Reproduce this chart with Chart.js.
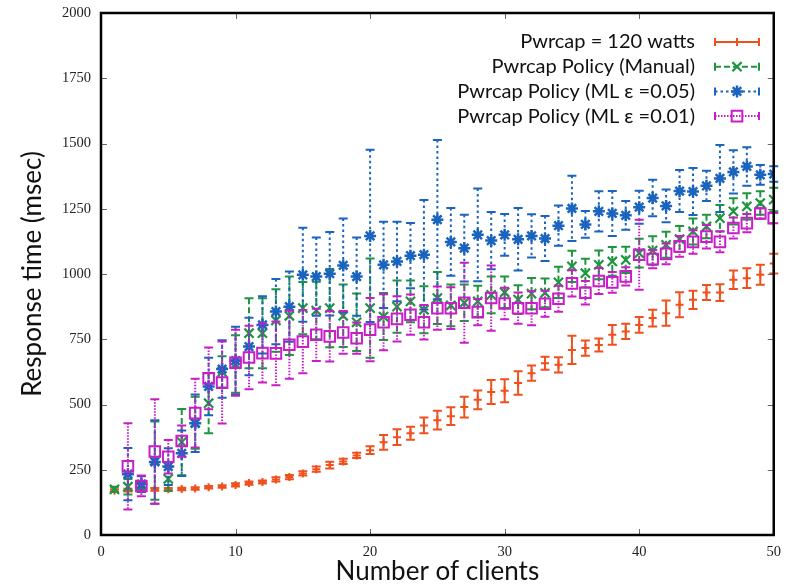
<!DOCTYPE html>
<html>
<head>
<meta charset="utf-8">
<script src="https://cdn.jsdelivr.net/npm/chart.js@4.4.1/dist/chart.umd.min.js"></script>
<style>
  body { margin: 0; background: #fff; }
</style>
</head>
<body>
<canvas id="respChart" width="789" height="585"></canvas>
<script>
// Number of clients (x)
const clients = [1,2,3,4,5,6,7,8,9,10,11,12,13,14,15,16,17,18,19,20,21,22,23,24,25,
  26,27,28,29,30,31,32,33,34,35,36,37,38,39,40,41,42,43,44,45,46,47,48,49,50];

// Response time (msec): mean and error for each policy
const capMean = [170,172,174,175,175,176,178,183,186,192, 199,203,213,222,236,252,268,282,305,325,
  355,375,390,420,440,455,490,518,548,553, 582,620,658,652,709,716,728,767,780,805,
  831,850,882,901,929,929,978,984,997,1040];
const capErr = [5,5,5,5,5,5,5,5,5,6, 6,6,8,8,8,10,13,10,10,15,
  28,30,25,30,36,34,40,36,46,44, 45,29,25,29,54,29,25,38,29,30,
  32,48,48,35,29,32,35,38,38,38];

const manualMean = [175,185,185,285,215,356,430,505,625,655, 773,773,822,840,869,860,869,840,815,869,
  837,875,895,863,908,880,890,895,920,930, 902,925,928,968,1029,1003,1035,1048,1054,1080,
  1090,1112,1134,1163,1182,1214,1240,1259,1272,1285];
const manualErr = [10,30,20,150,45,127,100,115,60,110, 134,134,120,150,100,110,150,120,110,190,
  90,100,80,90,100,80,70,60,70,60, 55,60,55,60,60,55,55,55,50,55,
  55,50,50,50,45,50,50,50,45,45];

const ml05Mean = [null,233,195,280,262,313,428,569,636,668, 722,805,856,875,997,990,1001,1033,990,1146,
  1035,1048,1070,1074,1208,1123,1099,1150,1128,1150, 1133,1146,1136,1185,1251,1190,1240,1232,1225,1256,
  1291,1261,1318,1316,1338,1366,1391,1412,1380,1383];
const ml05Err = [null,100,30,160,70,87,110,110,110,130, 110,110,125,135,180,150,160,180,150,330,
  165,152,125,210,305,130,128,178,110,80, 120,83,86,77,125,51,77,86,55,63,
  70,63,80,90,58,128,83,74,38,30];

const ml01Mean = [null,263,188,320,300,360,467,600,584,660, 680,697,696,729,741,767,761,776,754,787,
  815,828,844,815,869,869,890,854,908,887, 869,869,886,905,964,928,973,968,991,1074,
  1057,1077,1106,1123,1143,1123,1176,1195,1232,1214];
const ml01Err = [null,165,40,200,64,60,132,118,157,126, 122,113,122,130,121,100,96,82,60,121,
  107,87,77,66,83,80,153,50,125,60, 60,65,50,50,50,45,50,40,35,134,
  35,40,40,45,45,40,40,35,20,20];

function points(mean, err) {
  const out = [];
  clients.forEach((c, i) => {
    if (mean[i] != null) out.push({ x: c, y: mean[i], err: err[i] });
  });
  return out;
}

// vertical error bars, drawn just before each series' markers
const errorBars = {
  id: 'errorBars',
  beforeDatasetDraw(chart, args) {
    const ds = chart.data.datasets[args.index];
    const xs = chart.scales.x, ys = chart.scales.y;
    const ctx = chart.ctx;
    ctx.save();
    ctx.strokeStyle = ds.borderColor;
    ctx.lineWidth = 2;
    ds.data.forEach(p => {
      const px = xs.getPixelForValue(p.x);
      const top = ys.getPixelForValue(p.y + p.err);
      const bot = ys.getPixelForValue(p.y - p.err);
      ctx.setLineDash(ds.barDash);
      ctx.beginPath();
      ctx.moveTo(px, top);
      ctx.lineTo(px, bot);
      ctx.stroke();
      ctx.setLineDash([]);
      ctx.beginPath();
      ctx.moveTo(px - 4.5, top); ctx.lineTo(px + 4.5, top);
      ctx.moveTo(px - 4.5, bot); ctx.lineTo(px + 4.5, bot);
      ctx.stroke();
    });
    ctx.restore();
  }
};

// box frame with inward ticks on all four sides
const frame = {
  id: 'frame',
  afterDatasetsDraw(chart) {
    const { ctx, chartArea: a } = chart;
    const xs = chart.scales.x, ys = chart.scales.y;
    ctx.save();
    ctx.strokeStyle = '#666';
    ctx.lineWidth = 1;
    ctx.beginPath();
    xs.ticks.forEach(t => {
      const px = Math.round(xs.getPixelForValue(t.value)) + 0.5;
      ctx.moveTo(px, a.bottom); ctx.lineTo(px, a.bottom - 6);
      ctx.moveTo(px, a.top); ctx.lineTo(px, a.top + 6);
    });
    ys.ticks.forEach(t => {
      const py = Math.round(ys.getPixelForValue(t.value)) + 0.5;
      ctx.moveTo(a.left, py); ctx.lineTo(a.left + 6, py);
      ctx.moveTo(a.right, py); ctx.lineTo(a.right - 6, py);
    });
    ctx.stroke();
    ctx.strokeStyle = '#000';
    ctx.lineWidth = 2.5;
    ctx.strokeRect(a.left, a.top, a.right - a.left, a.bottom - a.top);
    ctx.restore();
  }
};

// key in the top right corner: label, then a sample bar with its marker
const keyBox = {
  id: 'keyBox',
  afterDraw(chart) {
    const ctx = chart.ctx;
    const textRight = 695, x0 = 715, x1 = 759, xm = 737;
    chart.data.datasets.forEach((ds, i) => {
      const y = 42 + i * 24.7;
      ctx.save();
      ctx.font = '20px Lato';
      ctx.fillStyle = '#111';
      ctx.textAlign = 'right';
      ctx.textBaseline = 'middle';
      ctx.fillText(ds.label, textRight, y);
      ctx.strokeStyle = ds.borderColor;
      ctx.lineWidth = 2;
      ctx.setLineDash(ds.barDash);
      ctx.beginPath();
      ctx.moveTo(x0, y); ctx.lineTo(x1, y);
      ctx.stroke();
      ctx.setLineDash([]);
      ctx.beginPath();
      ctx.moveTo(x0, y - 4); ctx.lineTo(x0, y + 4);
      ctx.moveTo(x1, y - 4); ctx.lineTo(x1, y + 4);
      ctx.stroke();
      ctx.fillStyle = 'rgba(0,0,0,0)';
      ctx.lineWidth = ds.pointBorderWidth;
      Chart.helpers.drawPoint(ctx, {
        pointStyle: ds.pointStyle, rotation: 0,
        radius: ds.pointRadius, borderWidth: ds.pointBorderWidth
      }, xm, y);
      ctx.restore();
    });
  }
};

const ctx = document.getElementById('respChart').getContext('2d');
const tickFont = { family: 'Liberation Serif', size: 14.5 };
const titleFont = { family: 'Lato', size: 26, lineHeight: 1 };

new Chart(ctx, {
  type: 'scatter',
  data: {
    datasets: [
      { label: 'Pwrcap = 120 watts', data: points(capMean, capErr), borderColor: '#f0501e',
        backgroundColor: 'rgba(0,0,0,0)', pointStyle: 'cross', pointRadius: 4, pointBorderWidth: 2,
        barDash: [], order: 4 },
      { label: 'Pwrcap Policy (Manual)', data: points(manualMean, manualErr), borderColor: '#1e9640',
        backgroundColor: 'rgba(0,0,0,0)', pointStyle: 'crossRot', pointRadius: 6.5, pointBorderWidth: 2.2,
        barDash: [6, 3], order: 3 },
      { label: 'Pwrcap Policy (ML ε =0.05)', data: points(ml05Mean, ml05Err), borderColor: '#1a64be',
        backgroundColor: 'rgba(0,0,0,0)', pointStyle: 'star', pointRadius: 6, pointBorderWidth: 2.5,
        barDash: [2.5, 3], order: 2 },
      { label: 'Pwrcap Policy (ML ε =0.01)', data: points(ml01Mean, ml01Err), borderColor: '#c81ec8',
        backgroundColor: 'rgba(0,0,0,0)', pointStyle: 'rect', pointRadius: 7.5, pointBorderWidth: 2,
        barDash: [1.5, 1.5], order: 1 }
    ]
  },
  options: {
    responsive: false,
    animation: false,
    devicePixelRatio: 1,
    layout: { padding: { left: 0, right: 12, top: 13, bottom: 0 } },
    plugins: { legend: { display: false }, tooltip: { enabled: false } },
    scales: {
      x: {
        type: 'linear', min: 0, max: 50,
        afterFit: s => { s.height = 50; },
        grid: { display: false, drawTicks: false },
        border: { display: false },
        ticks: { stepSize: 10, padding: 8, color: '#222', font: tickFont, maxRotation: 0,
                 callback: v => String(v) },
        title: { display: true, text: 'Number of clients', color: '#111', font: titleFont, padding: 0 }
      },
      y: {
        min: 0, max: 2000,
        afterFit: s => { s.width = 101; s.paddingTop = 0; s.paddingBottom = 0; },
        grid: { display: false, drawTicks: false },
        border: { display: false },
        ticks: { stepSize: 250, padding: 10, color: '#222', font: tickFont,
                 callback: v => String(v) },
        title: { display: true, text: 'Response time (msec)', color: '#111', font: titleFont,
                 padding: { top: 20, bottom: 0 } }
      }
    }
  },
  plugins: [errorBars, frame, keyBox]
});
</script>
</body>
</html>
